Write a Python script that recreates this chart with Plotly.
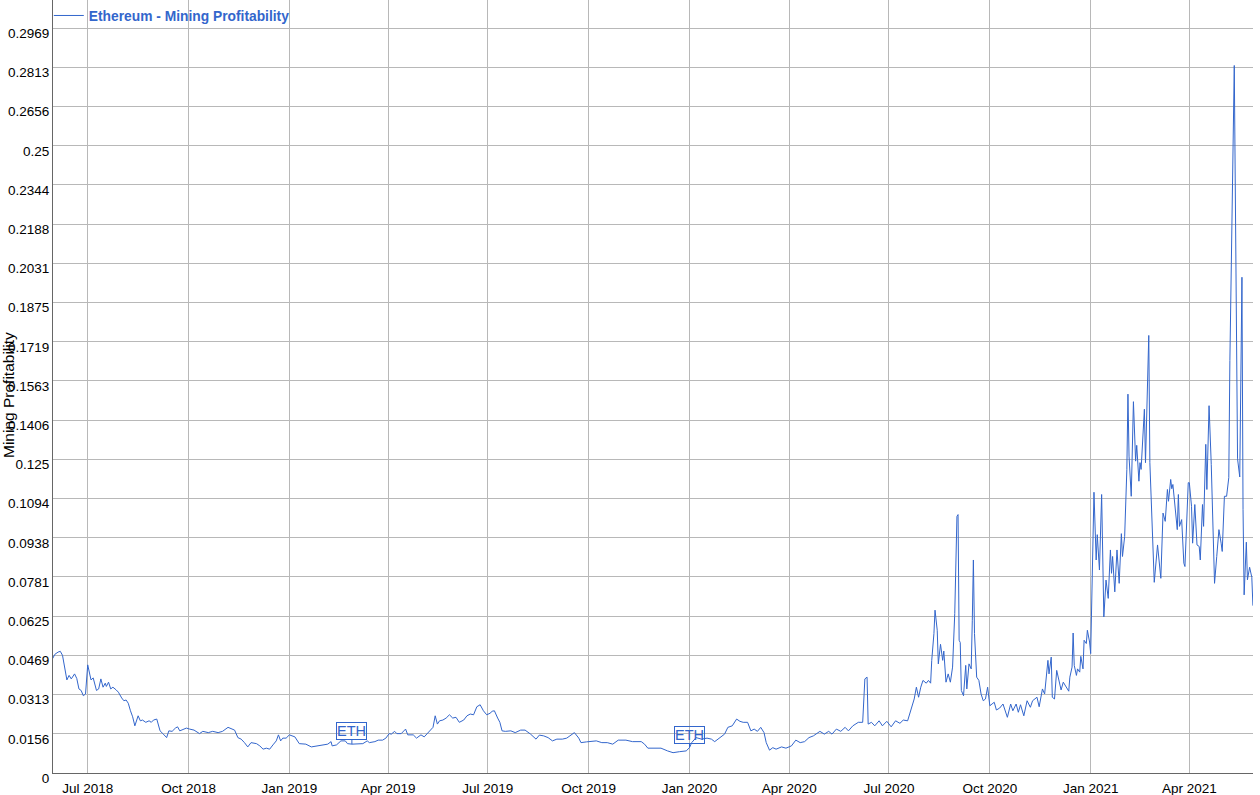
import plotly.graph_objects as go

# ---------------- data ----------------
dates = [
    "2018-05-30", "2018-06-01", "2018-06-04", "2018-06-06", "2018-06-08", "2018-06-10", "2018-06-12",
    "2018-06-14", "2018-06-16", "2018-06-19", "2018-06-21", "2018-06-23", "2018-06-25", "2018-06-27",
    "2018-06-29", "2018-07-01", "2018-07-03", "2018-07-04", "2018-07-06", "2018-07-09", "2018-07-11",
    "2018-07-13", "2018-07-15", "2018-07-17", "2018-07-18", "2018-07-20", "2018-07-22", "2018-07-24",
    "2018-07-27", "2018-07-29", "2018-08-01", "2018-08-03", "2018-08-05", "2018-08-07", "2018-08-09",
    "2018-08-11", "2018-08-13", "2018-08-16", "2018-08-18", "2018-08-20", "2018-08-23", "2018-08-26",
    "2018-08-28", "2018-08-30", "2018-09-02", "2018-09-03", "2018-09-05", "2018-09-08", "2018-09-11",
    "2018-09-13", "2018-09-16", "2018-09-19", "2018-09-21", "2018-09-23", "2018-09-26", "2018-09-29",
    "2018-10-02", "2018-10-06", "2018-10-11", "2018-10-14", "2018-10-19", "2018-10-23", "2018-10-28",
    "2018-11-01", "2018-11-06", "2018-11-09", "2018-11-12", "2018-11-15", "2018-11-18", "2018-11-21",
    "2018-11-24", "2018-11-27", "2018-12-02", "2018-12-05", "2018-12-08", "2018-12-11", "2018-12-14",
    "2018-12-17", "2018-12-20", "2018-12-22", "2018-12-24", "2018-12-26", "2018-12-29",
    "2019-01-01", "2019-01-06", "2019-01-10", "2019-01-16", "2019-01-21", "2019-01-26", "2019-02-01",
    "2019-02-05", "2019-02-08", "2019-02-09", "2019-02-13", "2019-02-17", "2019-02-21", "2019-02-23",
    "2019-02-27", "2019-03-05", "2019-03-09", "2019-03-13", "2019-03-15", "2019-03-20", "2019-03-23",
    "2019-03-27", "2019-03-30", "2019-04-02", "2019-04-04", "2019-04-07", "2019-04-09", "2019-04-13",
    "2019-04-17", "2019-04-19", "2019-04-24", "2019-04-27", "2019-05-01", "2019-05-04", "2019-05-07",
    "2019-05-10", "2019-05-12", "2019-05-14", "2019-05-16", "2019-05-18", "2019-05-21", "2019-05-24",
    "2019-05-27", "2019-05-30", "2019-06-02", "2019-06-05", "2019-06-09", "2019-06-12", "2019-06-15",
    "2019-06-18", "2019-06-21", "2019-06-24", "2019-06-27", "2019-06-30", "2019-07-03", "2019-07-05",
    "2019-07-07", "2019-07-10", "2019-07-12", "2019-07-14", "2019-07-17", "2019-07-22", "2019-07-26",
    "2019-07-31", "2019-08-04", "2019-08-09", "2019-08-14", "2019-08-17", "2019-08-21", "2019-08-25",
    "2019-08-29", "2019-09-02", "2019-09-07", "2019-09-11", "2019-09-15", "2019-09-18", "2019-09-22",
    "2019-09-24", "2019-09-29", "2019-10-04", "2019-10-08", "2019-10-13", "2019-10-18", "2019-10-23",
    "2019-10-28", "2019-11-04", "2019-11-10", "2019-11-18", "2019-11-21", "2019-11-24", "2019-11-30",
    "2019-12-06", "2019-12-12", "2019-12-17", "2019-12-23", "2019-12-29",
    "2020-01-01", "2020-01-03", "2020-01-07", "2020-01-12", "2020-01-17", "2020-01-21", "2020-01-24",
    "2020-01-29", "2020-02-02", "2020-02-05", "2020-02-09", "2020-02-13", "2020-02-16", "2020-02-19",
    "2020-02-23", "2020-02-26", "2020-02-29", "2020-03-03", "2020-03-06", "2020-03-09", "2020-03-11",
    "2020-03-14", "2020-03-17", "2020-03-20", "2020-03-25", "2020-03-29", "2020-04-03", "2020-04-07",
    "2020-04-11", "2020-04-15", "2020-04-19", "2020-04-23", "2020-04-29", "2020-05-03", "2020-05-07",
    "2020-05-10", "2020-05-14", "2020-05-18", "2020-05-22", "2020-05-25", "2020-05-29", "2020-06-03",
    "2020-06-07", "2020-06-09", "2020-06-11", "2020-06-12", "2020-06-15", "2020-06-18", "2020-06-22",
    "2020-06-25", "2020-06-29", "2020-07-03", "2020-07-07", "2020-07-11", "2020-07-14", "2020-07-18",
    "2020-07-21", "2020-07-24", "2020-07-26", "2020-07-28", "2020-07-30", "2020-08-01", "2020-08-04",
    "2020-08-06", "2020-08-08", "2020-08-09", "2020-08-11", "2020-08-12", "2020-08-14", "2020-08-15",
    "2020-08-17", "2020-08-19", "2020-08-20", "2020-08-22", "2020-08-24", "2020-08-26", "2020-08-28",
    "2020-08-30", "2020-09-01", "2020-09-02", "2020-09-03", "2020-09-04", "2020-09-05", "2020-09-07",
    "2020-09-09", "2020-09-10", "2020-09-12", "2020-09-14", "2020-09-15", "2020-09-16", "2020-09-17",
    "2020-09-19", "2020-09-21", "2020-09-23", "2020-09-25", "2020-09-27", "2020-09-29", "2020-10-01",
    "2020-10-03", "2020-10-05", "2020-10-07", "2020-10-10", "2020-10-13", "2020-10-17", "2020-10-20",
    "2020-10-22", "2020-10-25", "2020-10-27", "2020-10-29", "2020-11-01", "2020-11-04", "2020-11-07",
    "2020-11-09", "2020-11-13", "2020-11-15", "2020-11-18", "2020-11-20", "2020-11-21", "2020-11-23",
    "2020-11-24", "2020-11-26", "2020-11-27", "2020-11-29", "2020-12-01", "2020-12-03", "2020-12-05",
    "2020-12-07", "2020-12-10", "2020-12-12", "2020-12-13", "2020-12-15", "2020-12-16", "2020-12-17",
    "2020-12-19", "2020-12-20", "2020-12-22", "2020-12-23", "2020-12-25", "2020-12-26", "2020-12-28",
    "2020-12-29", "2020-12-31",
    "2021-01-01", "2021-01-04", "2021-01-06", "2021-01-07", "2021-01-09", "2021-01-11", "2021-01-13",
    "2021-01-15", "2021-01-17", "2021-01-19", "2021-01-20", "2021-01-21", "2021-01-23", "2021-01-25",
    "2021-01-27", "2021-01-29", "2021-01-30", "2021-02-01", "2021-02-03", "2021-02-04", "2021-02-05",
    "2021-02-07", "2021-02-09", "2021-02-11", "2021-02-12", "2021-02-14", "2021-02-15", "2021-02-16",
    "2021-02-18", "2021-02-19", "2021-02-20", "2021-02-22", "2021-02-23", "2021-02-24", "2021-02-26",
    "2021-02-28", "2021-03-03", "2021-03-04", "2021-03-06", "2021-03-08", "2021-03-10", "2021-03-12",
    "2021-03-13", "2021-03-15", "2021-03-16", "2021-03-17", "2021-03-19", "2021-03-21", "2021-03-22",
    "2021-03-23", "2021-03-25", "2021-03-27", "2021-03-28", "2021-03-29", "2021-03-31", "2021-04-01",
    "2021-04-03", "2021-04-04", "2021-04-06", "2021-04-08", "2021-04-10", "2021-04-11", "2021-04-13",
    "2021-04-14", "2021-04-16", "2021-04-17", "2021-04-19", "2021-04-21", "2021-04-22", "2021-04-24",
    "2021-04-26", "2021-04-28", "2021-04-30", "2021-05-01", "2021-05-03", "2021-05-05", "2021-05-07",
    "2021-05-08", "2021-05-12", "2021-05-15", "2021-05-17", "2021-05-19", "2021-05-20", "2021-05-21",
    "2021-05-23", "2021-05-24", "2021-05-26", "2021-05-28", "2021-05-29",
]

profitability = [
    0.0456, 0.0473, 0.0482, 0.0485, 0.0469, 0.0415, 0.0371,
    0.0389, 0.0375, 0.0395, 0.0377, 0.0335, 0.0329, 0.0308,
    0.0315, 0.0431, 0.0389, 0.0371, 0.0379, 0.0329, 0.0335,
    0.0375, 0.0342, 0.0358, 0.0345, 0.0362, 0.0335, 0.0342,
    0.0331, 0.0322, 0.0299, 0.0288, 0.0291, 0.0278, 0.0248,
    0.0224, 0.0188, 0.0228, 0.0208, 0.0211, 0.0202, 0.0208,
    0.0202, 0.0211, 0.0215, 0.0202, 0.0168, 0.0155, 0.0141,
    0.0168, 0.0166, 0.0179, 0.0184, 0.0168, 0.0175, 0.0179,
    0.0175, 0.0171, 0.0157, 0.0166, 0.0161, 0.0166, 0.0161,
    0.0166, 0.0182, 0.0175, 0.0171, 0.0141, 0.0135, 0.0121,
    0.0104, 0.0121, 0.0117, 0.0108, 0.0095, 0.0099, 0.0095,
    0.0112, 0.0128, 0.0152, 0.0128, 0.0139, 0.0139,
    0.0152, 0.0144, 0.0117, 0.0115, 0.0104, 0.0108, 0.0112,
    0.0115, 0.0125, 0.0108, 0.0112, 0.0128, 0.0128, 0.0117,
    0.0115, 0.0117, 0.0117, 0.0128, 0.0121, 0.0125, 0.0131,
    0.0131, 0.0139, 0.0157, 0.0155, 0.0166, 0.0157, 0.0157,
    0.0175, 0.0152, 0.0152, 0.0139, 0.0152, 0.0144, 0.0157,
    0.0171, 0.0182, 0.0228, 0.0195, 0.0208, 0.0211, 0.0219,
    0.0232, 0.0219, 0.0222, 0.0202, 0.0211, 0.0228, 0.0235,
    0.0232, 0.0264, 0.0272, 0.0248, 0.0232, 0.0238, 0.0246,
    0.0248, 0.0219, 0.0202, 0.0168, 0.0166, 0.0168, 0.0161,
    0.0171, 0.0171, 0.0155, 0.0135, 0.0151, 0.0148, 0.0141,
    0.0128, 0.0135, 0.0135, 0.0139, 0.0152, 0.0161, 0.0139,
    0.0121, 0.0124, 0.0125, 0.0128, 0.0121, 0.0121, 0.0115,
    0.0131, 0.0131, 0.0125, 0.0125, 0.0115, 0.0099, 0.0099,
    0.0099, 0.0088, 0.0081, 0.0085, 0.0088,
    0.0101, 0.0121, 0.0141, 0.0135, 0.0139, 0.0135, 0.0125,
    0.0141, 0.0155, 0.0182, 0.0188, 0.0215, 0.0206, 0.0202,
    0.0202, 0.0168, 0.0175, 0.0166, 0.0182, 0.0161, 0.0121,
    0.0091, 0.0101, 0.0095, 0.0104, 0.0099, 0.0108, 0.0131,
    0.0121, 0.0125, 0.0141, 0.0148, 0.0166, 0.0155, 0.0166,
    0.0155, 0.0175, 0.0166, 0.0182, 0.0168, 0.0188, 0.0202,
    0.0202, 0.0375, 0.0382, 0.0195, 0.0202, 0.0188, 0.0208,
    0.0188, 0.0206, 0.0184, 0.0208, 0.0198, 0.0211, 0.0208,
    0.0255, 0.0295, 0.0342, 0.0302, 0.0342, 0.0369, 0.0358,
    0.0369, 0.0358, 0.0449, 0.0556, 0.0649, 0.0569, 0.0435,
    0.0513, 0.0449, 0.0486, 0.0362, 0.0395, 0.0362, 0.0422,
    0.0636, 0.1023, 0.1030, 0.0529, 0.0520, 0.0329, 0.0308,
    0.0429, 0.0335, 0.0435, 0.0415, 0.0609, 0.0849, 0.0556,
    0.0382, 0.0369, 0.0315, 0.0288, 0.0295, 0.0342, 0.0268,
    0.0275, 0.0282, 0.0251, 0.0259, 0.0275, 0.0222, 0.0275,
    0.0248, 0.0275, 0.0242, 0.0272, 0.0228, 0.0288, 0.0262,
    0.0288, 0.0302, 0.0264, 0.0335, 0.0315, 0.0355, 0.0449,
    0.0395, 0.0462, 0.0302, 0.0295, 0.0409, 0.0369, 0.0331,
    0.0362, 0.0342, 0.0326, 0.0382, 0.0422, 0.0558, 0.0429,
    0.0389, 0.0415, 0.0402, 0.0465, 0.0415, 0.0529, 0.0516,
    0.0569, 0.0522,
    0.0476, 0.1119, 0.0849, 0.0950, 0.0809, 0.1110, 0.0622,
    0.0769, 0.0696, 0.0889, 0.0796, 0.0863, 0.0722, 0.0889,
    0.0756, 0.0954, 0.0863, 0.0943, 0.1210, 0.1510, 0.1263,
    0.1103, 0.1480, 0.1243, 0.1306, 0.1163, 0.1237, 0.1210,
    0.1343, 0.1450, 0.1237, 0.1651, 0.1744, 0.1237, 0.1023,
    0.0760, 0.0909, 0.0856, 0.0776, 0.1036, 0.1003, 0.1130,
    0.1083, 0.1170, 0.1133, 0.1150, 0.1043, 0.0970, 0.1110,
    0.0983, 0.1010, 0.0836, 0.0823, 0.0916, 0.1157, 0.1157,
    0.1063, 0.0916, 0.1070, 0.0909, 0.0903, 0.0849, 0.1070,
    0.0983, 0.1310, 0.1130, 0.1464, 0.1230, 0.1076, 0.0756,
    0.0863, 0.0970, 0.0916, 0.0883, 0.1103, 0.1103, 0.1177,
    0.1644, 0.2820, 0.1252, 0.1180, 0.1976, 0.1050, 0.0710,
    0.0920, 0.0770, 0.0820, 0.0780, 0.0667,
]

y_tick_values = [0, 0.015625, 0.03125, 0.046875, 0.0625, 0.078125, 0.09375, 0.109375, 0.125,
                 0.140625, 0.15625, 0.171875, 0.1875, 0.203125, 0.21875, 0.234375, 0.25,
                 0.265625, 0.28125, 0.296875]
y_tick_labels = ["0", "0.0156", "0.0313", "0.0469", "0.0625", "0.0781", "0.0938", "0.1094",
                 "0.125", "0.1406", "0.1563", "0.1719", "0.1875", "0.2031", "0.2188", "0.2344",
                 "0.25", "0.2656", "0.2813", "0.2969"]

event_dates = ["2019-02-27", "2020-01-01"]
event_labels = ["ETH", "ETH"]

series_name = "Ethereum - Mining Profitability"
y_title = "Mining Profitability"

# ---------------- styling ----------------
BLUE = "#3366cc"
GRID = "#b8b8b8"
FONT = "Arial, Liberation Sans, sans-serif"

fig = go.Figure()
fig.add_trace(go.Scatter(
    x=dates, y=profitability, mode="lines", name=series_name,
    line=dict(color=BLUE, width=1), showlegend=True,
))

annotations = []
for d, lab in zip(event_dates, event_labels):
    yv = profitability[dates.index(d)]
    annotations.append(dict(
        x=d, y=yv, xref="x", yref="y", text=lab, showarrow=True,
        arrowhead=0, arrowwidth=1, arrowcolor=BLUE, ax=0, ay=-13,
        font=dict(family=FONT, size=14.5, color=BLUE),
        bordercolor=BLUE, borderwidth=1, borderpad=0, bgcolor="rgba(255,255,255,0)",
    ))

annotations.append(dict(
    x=-0.0375, y=0.489, xref="paper", yref="paper", text=y_title, showarrow=False,
    textangle=-90, font=dict(family=FONT, size=15.5, color="#000000"),
    xanchor="center", yanchor="middle",
))

fig.update_layout(
    width=1260, height=795,
    margin=dict(l=53, r=7, t=0, b=22, pad=0, autoexpand=False),
    paper_bgcolor="white", plot_bgcolor="white",
    font=dict(family=FONT, size=13.5, color="#000000"),
    showlegend=True,
    legend=dict(
        x=-0.0035, y=1.0, xanchor="left", yanchor="top", xref="paper", yref="paper",
        bgcolor="rgba(255,255,255,0)", borderwidth=0,
        font=dict(family=FONT, size=13.8, color=BLUE, weight="bold"),
    ),
    annotations=annotations,
    xaxis=dict(
        type="date",
        range=["2018-05-30 08:00", "2021-05-29 02:00"],
        tick0="2018-07-01", dtick="M3", tickformat="%b %Y",
        showgrid=True, gridcolor=GRID, gridwidth=1,
        showline=True, linecolor="#666666", linewidth=1,
        ticks="", zeroline=False, ticklabelstandoff=3,
        tickfont=dict(family=FONT, size=13.5, color="#000000"),
    ),
    yaxis=dict(
        range=[0, 0.3081],
        tickmode="array", tickvals=y_tick_values, ticktext=y_tick_labels,
        showgrid=True, gridcolor=GRID, gridwidth=1,
        showline=True, linecolor="#666666", linewidth=1,
        ticks="", zeroline=False, ticklabelshift=5,
        tickfont=dict(family=FONT, size=13.5, color="#000000"),
    ),
)

fig.write_html(
    "out.html",
    config={"displayModeBar": False},
    post_script="document.body.style.margin='0';document.body.style.overflow='hidden';",
)
